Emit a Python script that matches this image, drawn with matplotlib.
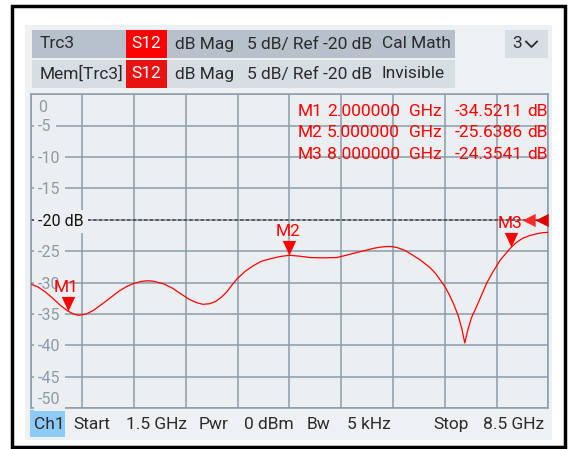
import numpy as np
import matplotlib
matplotlib.use('Agg')
import matplotlib.pyplot as plt
from matplotlib.path import Path
from matplotlib.patches import Rectangle
from matplotlib.transforms import blended_transform_factory

# S12 trace (GHz, dB)
freq_ghz = [1.5, 1.6, 1.7, 1.8, 1.9, 2.0, 2.08, 2.15, 2.25, 2.35, 2.5, 2.6, 2.7, 2.8, 2.9,
            3.0, 3.07, 3.15, 3.3, 3.42, 3.52, 3.65, 3.75, 3.83, 3.92, 4.0, 4.08, 4.15,
            4.22, 4.29, 4.4, 4.51, 4.62, 4.74, 4.87, 5.0, 5.15, 5.28, 5.45, 5.64, 5.78,
            5.91, 6.05, 6.15, 6.23, 6.3, 6.38, 6.45, 6.55, 6.65, 6.77, 6.9, 6.98, 7.04,
            7.1, 7.16, 7.22, 7.28, 7.33, 7.37, 7.41, 7.46, 7.53, 7.6, 7.67, 7.75, 7.85,
            7.93, 8.0, 8.08, 8.16, 8.25, 8.35, 8.42, 8.5]
s12_db = [-30.2, -30.7, -31.5, -32.5, -33.6, -34.5, -35.0, -35.2, -35.0, -34.4, -33.1,
          -32.2, -31.3, -30.6, -30.1, -29.8, -29.7, -29.75, -30.2, -30.9, -31.7, -32.7,
          -33.2, -33.45, -33.35, -33.0, -32.3, -31.5, -30.4, -29.4, -28.2, -27.3, -26.6,
          -26.2, -25.85, -25.64, -25.8, -26.0, -26.05, -26.0, -25.6, -25.2, -24.8,
          -24.5, -24.35, -24.25, -24.25, -24.4, -24.8, -25.5, -26.4, -27.6, -28.6,
          -29.6, -30.6, -31.9, -33.4, -35.2, -37.3, -39.6, -37.6, -35.6, -33.8, -31.9,
          -30.0, -28.3, -26.4, -25.3, -24.35, -23.5, -22.9, -22.5, -22.2, -22.05, -22.0]

marker_names = ['M1', 'M2', 'M3']
marker_freq = [2.0, 5.0, 8.0]
marker_db = [-34.5211, -25.6386, -24.3541]

y_ticks = [0, -5, -10, -15, -20, -25, -30, -35, -40, -45, -50]
ref_db = -20
start_ghz, stop_ghz = 1.5, 8.5

header_row1 = ['Trc3', 'S12', 'dB Mag', '5 dB/ Ref -20 dB', 'Cal Math']
header_row2 = ['Mem[Trc3]', 'S12', 'dB Mag', '5 dB/ Ref -20 dB', 'Invisible']
footer = ['Ch1', 'Start', '1.5 GHz', 'Pwr', '0 dBm', 'Bw', '5 kHz', 'Stop', '8.5 GHz']

plt.rcParams['font.family'] = ['Roboto', 'DejaVu Sans']

W, H = 569, 449
panel_bg = '#edf1f4'
plot_bg = '#ebeff2'
grid_c = '#8b9cab'
red = '#ff0000'
ink = '#2b2b2b'
fs = 12.5

fig = plt.figure(figsize=(W / 100, H / 100), dpi=100)

# pixel-space layer for the screen furniture
bg = fig.add_axes([0, 0, 1, 1])
bg.set_xlim(0, W)
bg.set_ylim(H, 0)
bg.axis('off')
bg.add_patch(Rectangle((12, 6), 553, 441, fill=False, ec='black', lw=2.5))
bg.add_patch(Rectangle((25, 25), 527, 415, fc=panel_bg, ec='none'))

# header rows
row_x = [40, 146.5, 175, 247, 382]
for row, (yc, rc, sc) in enumerate([(44, '#b6c1cb', '#ff0000'), (74, '#d6dde3', '#e81212')]):
    labels = header_row1 if row == 0 else header_row2
    bg.add_patch(Rectangle((32, yc - 14), 423, 28, fc=rc, ec='none'))
    bg.add_patch(Rectangle((126, yc - 14), 41, 28, fc=sc, ec='none'))
    for i, s in enumerate(labels):
        if i == 1:
            bg.text(row_x[i], yc, s, color='white', fontsize=fs, ha='center', va='center')
        else:
            bg.text(row_x[i], yc, s, color=ink, fontsize=fs, ha='left', va='center')

# trace selector "3 v"
bg.add_patch(Rectangle((505, 30), 43, 28, fc='#d6dde3', ec='none'))
bg.text(517, 44, '3', color=ink, fontsize=fs, ha='center', va='center')
bg.plot([526, 531.5, 537], [41.5, 47, 41.5], color=ink, lw=1.3)

# footer
foot_x = [34, 73, 126, 199, 244, 307, 347, 433, 483]
bg.add_patch(Rectangle((30, 410), 35, 27, fc='#8ecaf8', ec='none'))
for x, s in zip(foot_x, footer):
    bg.text(x, 424.5, s, color=ink, fontsize=fs, ha='left', va='center')

# diagram area
L, T, R, B = 30.7, 94.2, 548.3, 408.3
ax = fig.add_axes([L / W, 1 - B / H, (R - L) / W, (B - T) / H])
ax.set_facecolor(plot_bg)
ax.set_xlim(start_ghz, stop_ghz)
ax.set_ylim(-50, 0)
ax.set_xticks(np.linspace(start_ghz, stop_ghz, 11))
ax.set_yticks(y_ticks)
ax.tick_params(length=0, labelbottom=False, labelleft=False)
ax.set_axisbelow(True)
ax.grid(True, color=grid_c, lw=1.1)
for sp in ax.spines.values():
    sp.set_color(grid_c)
    sp.set_linewidth(1.1)

ax.axhline(ref_db, color='#444444', ls=(0, (2.2, 1.5)), lw=1.1, zorder=1)

# y labels sit inside the grid, blanking the lines behind them
ylab_tr = blended_transform_factory(ax.transAxes, ax.transData)
for v in y_ticks:
    txt = f'{v}'
    col = '#8d9aa6'
    if v == ref_db:
        txt = f'{v} dB'
        col = '#111111'
    if v == 0:
        va, dy = 'top', -4
    elif v == -50:
        va, dy = 'bottom', 1
    else:
        va, dy = 'center', -1
    ax.annotate(txt, (0.0, v), xycoords=ylab_tr, xytext=(5.3, dy), textcoords='offset points',
                ha='left', va=va, fontsize=11.5, color=col, zorder=3,
                bbox=dict(boxstyle='square,pad=0.25', fc=plot_bg, ec='none'))

ax.plot(freq_ghz, s12_db, color=red, lw=0.9, zorder=4)

# marker triangles, tip on the trace
tri_down = Path([(-0.46, 1), (0.46, 1), (0, 0), (-0.46, 1)],
                [Path.MOVETO, Path.LINETO, Path.LINETO, Path.CLOSEPOLY])
for n, f, d in zip(marker_names, marker_freq, marker_db):
    ax.plot(f, d, marker=tri_down, ms=21, color=red, mec='none', ls='none', zorder=5)
    ax.annotate(n, (f, d), xytext=(-1, 14), textcoords='offset points', ha='center',
                va='baseline', fontsize=fs, color=red, zorder=5)

# reference level arrows at the right edge
tri_left = Path([(0, 0), (1, 0.5), (1, -0.5), (0, 0)],
                [Path.MOVETO, Path.LINETO, Path.LINETO, Path.CLOSEPOLY])
ax.plot([0.9495], [ref_db], marker=tri_left, ms=19, color='#ff2a2a', mec='none',
        transform=ylab_tr, clip_on=False, zorder=5)
ax.plot([0.9745], [ref_db], marker=tri_left, ms=19, color='#dd0000', mec='none',
        transform=ylab_tr, clip_on=False, zorder=5)

bg.set_zorder(0)
ax.set_zorder(1)

# marker readout floats above the diagram
top = fig.add_axes([0, 0, 1, 1])
top.set_xlim(0, W)
top.set_ylim(H, 0)
top.axis('off')
top.set_zorder(2)
col_x = [298, 400, 409, 523, 527]
col_ha = ['left', 'right', 'left', 'right', 'left']
for i, (n, f, d) in enumerate(zip(marker_names, marker_freq, marker_db)):
    yc = 111.3 + i * 21.4
    cells = [n, f'{f:.6f}', 'GHz', f'{d:.4f}', 'dB']
    for x, ha, s in zip(col_x, col_ha, cells):
        top.text(x, yc, s, color=red, fontsize=fs, ha=ha, va='center')

fig.savefig('out.png', dpi=100)
